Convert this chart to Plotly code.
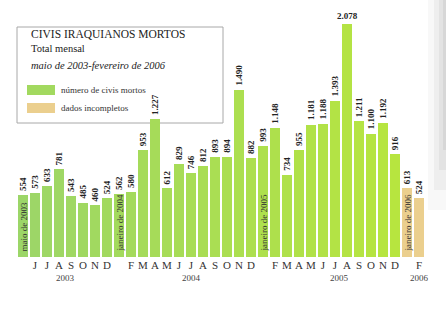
import plotly.graph_objects as go

# ---- data ----
month_letters = ["", "J", "J", "A", "S", "O", "N", "D",
                 "", "F", "M", "A", "M", "J", "J", "A", "S", "O", "N", "D",
                 "", "F", "M", "A", "M", "J", "J", "A", "S", "O", "N", "D",
                 "", "F"]
deaths = [554, 573, 633, 781, 543, 485, 460, 524,
          562, 580, 953, 1227, 612, 829, 746, 812, 893, 894, 1490, 882,
          993, 1148, 734, 955, 1181, 1188, 1393, 2078, 1211, 1100, 1192, 916,
          613, 524]
incomplete = [False] * 32 + [True, True]
inside_idx = [0, 8, 20, 32]
inside_text = ["maio de 2003", "janeiro de 2004", "janeiro de 2005", "janeiro de 2006"]
years = ["2003", "2004", "2005", "2006"]
year_pos = [3.5, 14.0, 26.4, 33.0]

W, H = 446, 314
SERIF = "Liberation Serif"

def px(x):
    return x / W

def py(y):
    return 1 - y / H

def lerp(c1, c2, t):
    return "#%02x%02x%02x" % tuple(int(round(a + (b - a) * t)) for a, b in zip(c1, c2))

g_left = (0x9c, 0xd6, 0x68)
g_right = (0xb9, 0xe6, 0x3c)
orange = "#ebcf8e"
n = len(deaths)
colors = [orange if incomplete[i] else lerp(g_left, g_right, i / (n - 1)) for i in range(n)]

def fmt(v):
    return f"{v:,}".replace(",", ".")

x = list(range(n))
fig = go.Figure(go.Bar(x=x, y=deaths, marker=dict(color=colors, line=dict(width=0)),
                       width=0.83, hoverinfo="skip"))

annotations = []
for i, v in enumerate(deaths):
    if v == max(deaths):
        annotations.append(dict(x=i, y=v, xref="x", yref="y", text=fmt(v), showarrow=False,
                                yanchor="bottom", xanchor="center", yshift=1,
                                font=dict(family=SERIF, size=9, color="#222", weight="bold")))
    else:
        annotations.append(dict(x=i, y=v, xref="x", yref="y", text=fmt(v), showarrow=False,
                                textangle=-90, yanchor="bottom", xanchor="center", yshift=2,
                                font=dict(family=SERIF, size=9, color="#222", weight="bold")))
for i, t in zip(inside_idx, inside_text):
    annotations.append(dict(x=i, y=0, xref="x", yref="y", text=t, showarrow=False,
                            textangle=-90, yanchor="bottom", xanchor="center", yshift=3,
                            font=dict(family=SERIF, size=9, color="#333")))
for xp, t in zip(year_pos, years):
    annotations.append(dict(x=xp, y=py(278), xref="x", yref="paper", text=t, showarrow=False,
                            yanchor="middle", xanchor="center",
                            font=dict(family=SERIF, size=9, color="#444")))

# legend / title box
annotations += [
    dict(x=px(29), y=py(34), xref="paper", yref="paper", text="CIVIS IRAQUIANOS MORTOS",
         showarrow=False, xanchor="left", yanchor="middle",
         font=dict(family=SERIF, size=11.5, color="#222")),
    dict(x=px(29), y=py(49), xref="paper", yref="paper", text="Total mensal",
         showarrow=False, xanchor="left", yanchor="middle",
         font=dict(family=SERIF, size=10.5, color="#222")),
    dict(x=px(29), y=py(65), xref="paper", yref="paper", text="<i>maio de 2003-fevereiro de 2006</i>",
         showarrow=False, xanchor="left", yanchor="middle",
         font=dict(family=SERIF, size=10.5, color="#222")),
    dict(x=px(59), y=py(90), xref="paper", yref="paper", text="número de civis mortos",
         showarrow=False, xanchor="left", yanchor="middle",
         font=dict(family=SERIF, size=9, color="#333")),
    dict(x=px(59), y=py(108), xref="paper", yref="paper", text="dados incompletos",
         showarrow=False, xanchor="left", yanchor="middle",
         font=dict(family=SERIF, size=9, color="#333")),
]

shapes = [
    dict(type="rect", xref="paper", yref="paper", x0=px(17), x1=px(223), y0=py(27), y1=py(123),
         line=dict(color="#a8a8a8", width=1), fillcolor="white", layer="below"),
    dict(type="rect", xref="paper", yref="paper", x0=px(27), x1=px(55), y0=py(85), y1=py(95),
         line=dict(width=0), fillcolor=lerp(g_left, g_right, 0.2)),
    dict(type="rect", xref="paper", yref="paper", x0=px(27), x1=px(55), y0=py(103), y1=py(113),
         line=dict(width=0), fillcolor=orange),
]
# faint scanned-page shading on right edge
for k, (x0, yb, op) in enumerate([(428, 210, 0.05), (434, 190, 0.07), (439, 170, 0.09), (443, 150, 0.1)]):
    shapes.append(dict(type="rect", xref="paper", yref="paper", x0=px(x0), x1=1, y0=py(yb), y1=1,
                       line=dict(width=0), fillcolor="#777", opacity=op, layer="below"))

base = 257
scale = 233 / 2078
fig.update_layout(
    width=W, height=H, margin=dict(l=0, r=0, t=0, b=0),
    paper_bgcolor="white", plot_bgcolor="rgba(0,0,0,0)",
    showlegend=False, bargap=0,
    xaxis=dict(range=[-23 / 12, -23 / 12 + W / 12], tickvals=x, ticktext=month_letters,
               showgrid=False, zeroline=False, showline=False, ticks="",
               tickfont=dict(family=SERIF, size=11, color="#333"), fixedrange=True),
    yaxis=dict(domain=[(H - base) / H, 1], range=[0, base / scale], visible=False, fixedrange=True),
    annotations=annotations, shapes=shapes,
)
fig.write_html("out.html")
